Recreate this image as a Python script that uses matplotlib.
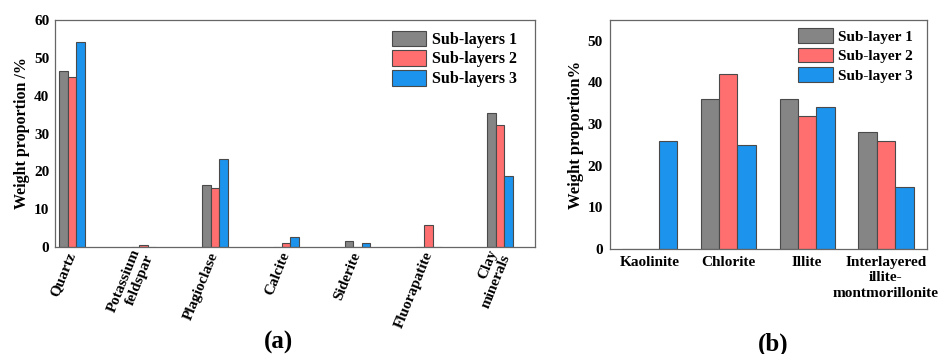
import numpy as np
import matplotlib.pyplot as plt

plt.rcParams['font.family'] = ['Liberation Serif', 'DejaVu Serif']
plt.rcParams['font.weight'] = 'bold'

# (a) 全岩矿物
minerals = ["Quartz", "Potassium\nfeldspar", "Plagioclase", "Calcite",
            "Siderite", "Fluorapatite", "Clay\nminerals"]
sub1_a = [46.5, 0, 16.5, 0, 1.5, 0, 35.5]
sub2_a = [45.0, 0.4, 15.5, 1.0, 0, 5.8, 32.3]
sub3_a = [54.2, 0, 23.2, 2.7, 1.0, 0, 18.7]

# (b) 粘土矿物
clays = ["Kaolinite", "Chlorite", "Illite", "Interlayered\nillite-\nmontmorillonite"]
sub1_b = [0, 36, 36, 28]
sub2_b = [0, 42, 32, 26]
sub3_b = [26, 25, 34, 15]

colors = ["#858585", "#ff6f6f", "#1c93ec"]
edge = "#4a4a4a"

fig = plt.figure(figsize=(9.45, 3.54), dpi=100)

# ---- (a)
ax1 = fig.add_axes([0.0582, 0.3023, 0.508, 0.641])
x = np.arange(len(minerals))
w = 0.12
series_a = [sub1_a, sub2_a, sub3_a]
labels_a = ["Sub-layers 1", "Sub-layers 2", "Sub-layers 3"]
for i, vals in enumerate(series_a):
    ax1.bar(x + (i - 1) * w, vals, w, color=colors[i], edgecolor=edge,
            linewidth=0.8, label=labels_a[i])
ax1.set_xlim(-0.24, 6.49)
ax1.set_ylim(0, 60)
ax1.set_yticks([0, 10, 20, 30, 40, 50, 60])
ax1.set_xticks(x)
ax1.set_xticklabels(minerals, rotation=68, ha='right', va='center',
                    rotation_mode='anchor', fontsize=11, linespacing=1.15)
ax1.set_ylabel("Weight proportion /%", fontsize=11.5, fontweight='bold',
               labelpad=3)
ax1.tick_params(length=0, labelsize=11, pad=4)
ax1.legend(loc='upper right', bbox_to_anchor=(0.975, 0.982), frameon=False,
           fontsize=11.5, handlelength=2.1, handleheight=1.1,
           handletextpad=0.35, labelspacing=0.17, borderaxespad=0)

# ---- (b)
ax2 = fig.add_axes([0.6455, 0.2966, 0.3354, 0.647])
xb = np.arange(len(clays))
wb = 0.233
series_b = [sub1_b, sub2_b, sub3_b]
labels_b = ["Sub-layer 1", "Sub-layer 2", "Sub-layer 3"]
for i, vals in enumerate(series_b):
    ax2.bar(xb + (i - 1) * wb, vals, wb, color=colors[i], edgecolor=edge,
            linewidth=0.8, label=labels_b[i])
ax2.set_xlim(-0.5, 3.52)
ax2.set_ylim(0, 55)
ax2.set_yticks([0, 10, 20, 30, 40, 50])
ax2.set_xticks(xb)
ax2.set_xticklabels(clays, fontsize=11.5, ha='center', linespacing=1.25)
ax2.set_ylabel("Weight proportion%", fontsize=12, fontweight='bold',
               labelpad=3)
ax2.tick_params(length=0, labelsize=11, pad=5)
ax2.legend(loc='upper right', bbox_to_anchor=(0.975, 0.99), frameon=False,
           fontsize=11, handlelength=2.3, handleheight=1.1,
           handletextpad=0.35, labelspacing=0.25, borderaxespad=0)

for ax in (ax1, ax2):
    for s in ax.spines.values():
        s.set_color("#666666")
        s.set_linewidth(0.9)

fig.text(0.295, 0.034, "(a)", ha='center', va='center', fontsize=18,
         fontweight='bold')
fig.text(0.818, 0.028, "(b)", ha='center', va='center', fontsize=18,
         fontweight='bold')

fig.savefig("out.png", dpi=100)
